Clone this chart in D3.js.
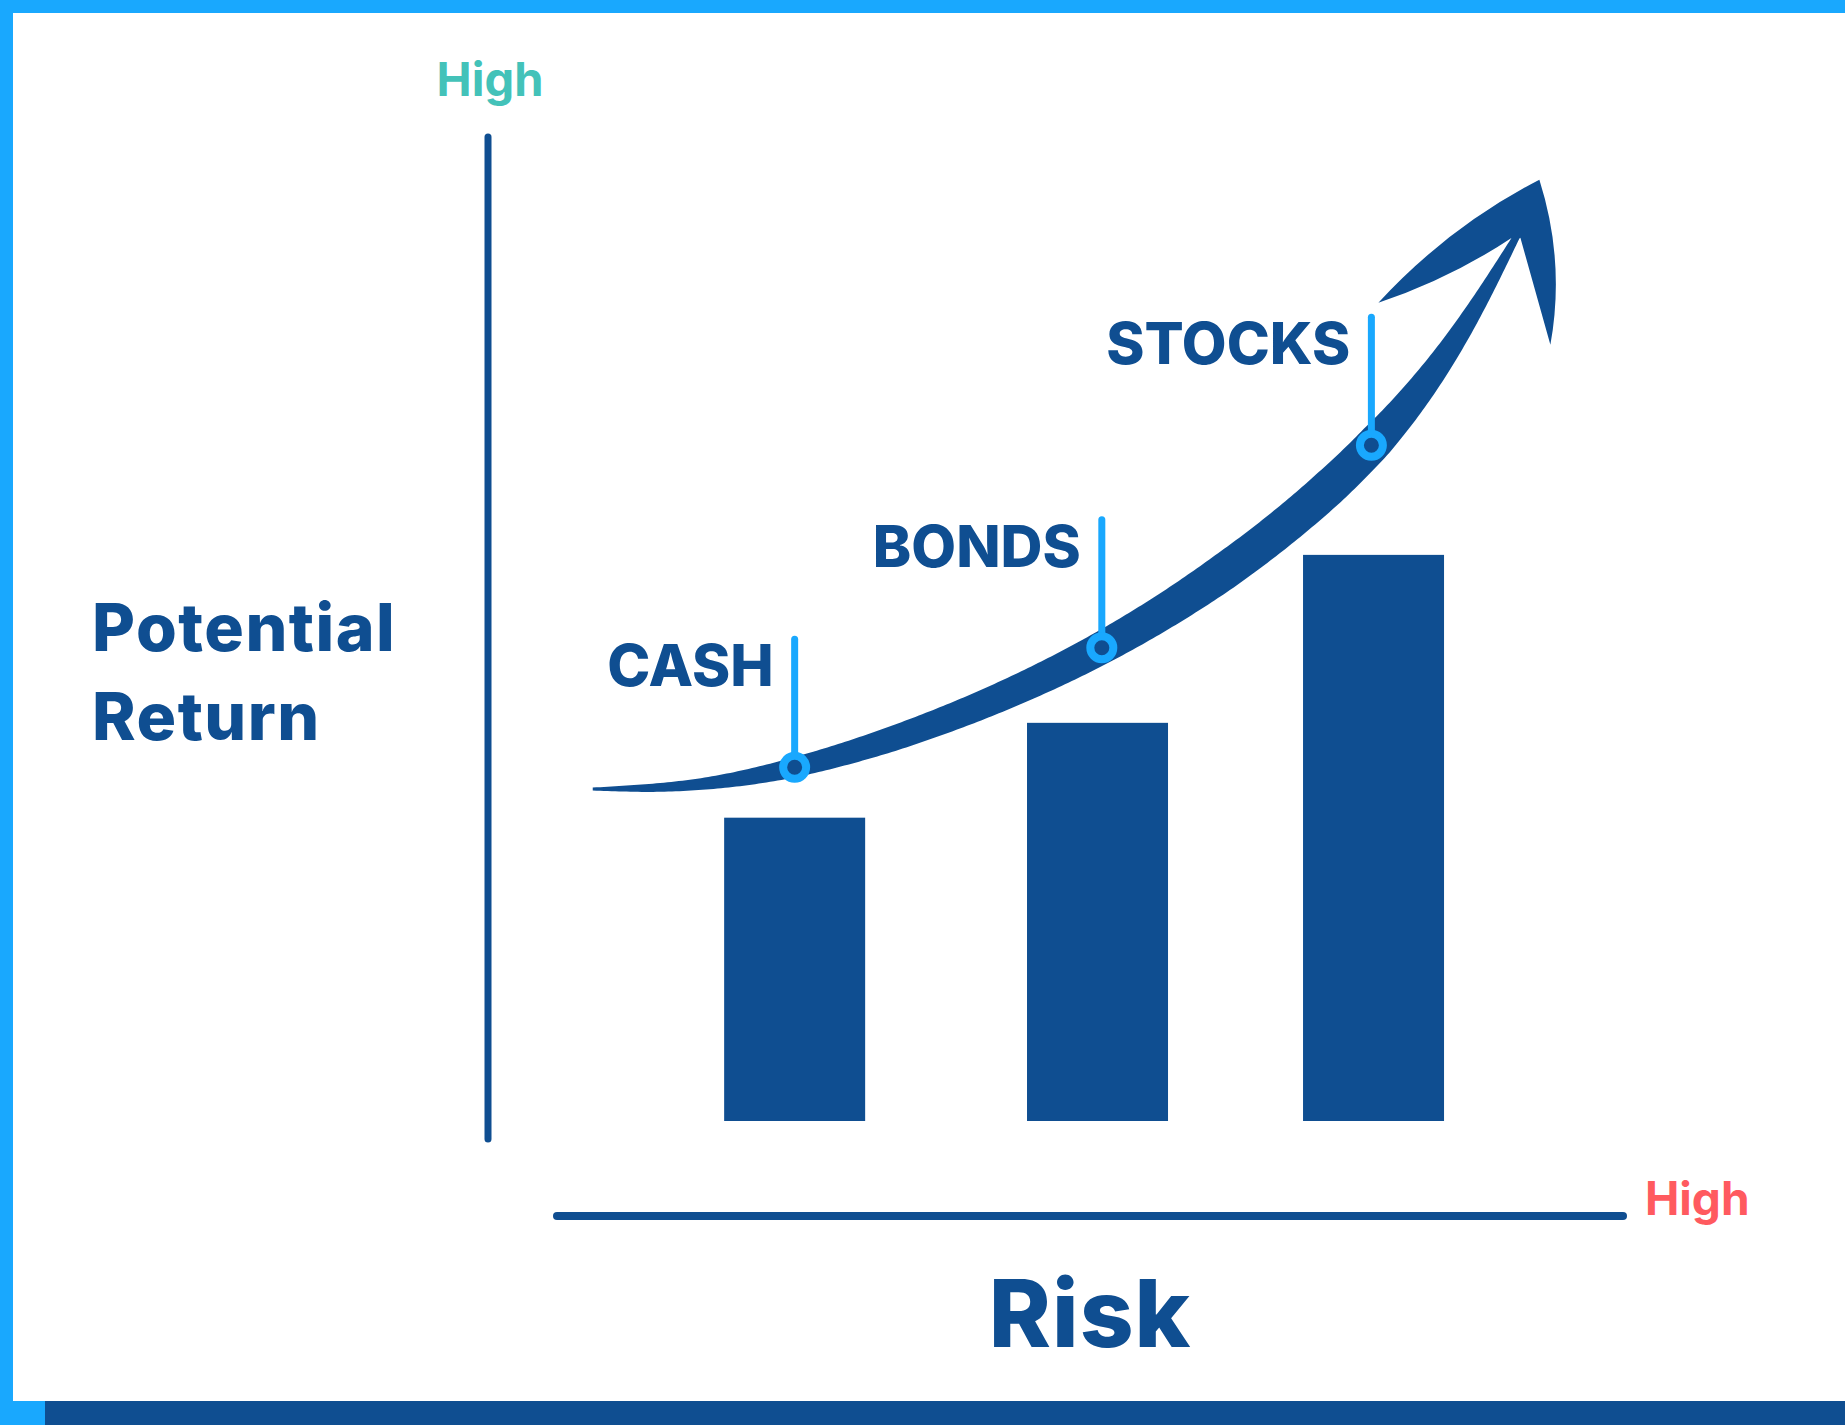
<!DOCTYPE html>
<html>
<head>
<meta charset="utf-8">
<script src="https://cdn.jsdelivr.net/npm/d3@7"></script>
<style>
  body { margin: 0; background: #ffffff; }
  svg { display: block; }
  text { font-family: Inter, "Noto Sans", sans-serif; }
</style>
</head>
<body>
<svg id="RISK_SVG_CONTAINER" width="1845" height="1425"></svg>
<script>
// bar categories + values (risk on x, return on y, 0-100 scale)
const categories = ["CASH", "BONDS", "STOCKS"];
const barRisk = [22.5, 50.7, 76.4];
const barReturn = [30.7, 40.3, 57.3];

// where each label's pin sits on the trend arrow
const markerRisk = [22.5, 51.1, 76.2];
const markerReturn = [35.8, 47.9, 68.4];

// trend arrow centre line
const trendRisk = [3.7, 22.5, 51.1, 76.3, 89.7];
const trendReturn = [33.6, 35.8, 47.9, 68.4, 89.5];

const axisTitleY = ["Potential", "Return"];
const axisTitleX = "Risk";
const axisEndLabel = "High";

const DARK = "#0f4e91",
  LIGHT = "#19a8fe",
  TEAL = "#43c2b9",
  RED = "#ff5a5f";

const width = 1845,
  height = 1425;

let svg = d3.select("#RISK_SVG_CONTAINER");

let xScale = d3.scaleLinear().domain([0, 100]).range([553, 1627]);
let yScale = d3.scaleLinear().domain([0, 100]).range([1121, 133]);

const AXIS_X = 488, // vertical axis position
  AXIS_Y = 1216; // horizontal axis position

// frame
svg.append("rect").attr("x", 0).attr("y", 0).attr("width", width).attr("height", 13).attr("fill", LIGHT);
svg.append("rect").attr("x", 0).attr("y", 0).attr("width", 13).attr("height", height).attr("fill", LIGHT);
svg.append("rect").attr("x", 0).attr("y", 1401).attr("width", width).attr("height", 24).attr("fill", DARK);
svg.append("rect").attr("x", 0).attr("y", 1401).attr("width", 45).attr("height", 24).attr("fill", LIGHT);

// axes
svg.append("line")
  .attr("x1", AXIS_X).attr("x2", AXIS_X)
  .attr("y1", yScale(100) + 4).attr("y2", yScale.range()[0] + 18)
  .attr("stroke", DARK).attr("stroke-width", 7).attr("stroke-linecap", "round");

svg.append("line")
  .attr("x1", xScale.range()[0] + 4).attr("x2", xScale.range()[1] - 4)
  .attr("y1", AXIS_Y).attr("y2", AXIS_Y)
  .attr("stroke", DARK).attr("stroke-width", 8).attr("stroke-linecap", "round");

svg.append("text")
  .attr("x", AXIS_X + 2).attr("y", 96)
  .attr("text-anchor", "middle")
  .attr("font-size", 47).attr("font-weight", 700)
  .attr("fill", TEAL)
  .text(axisEndLabel);

svg.append("text")
  .attr("x", xScale.range()[1] + 18).attr("y", AXIS_Y - 1)
  .attr("font-size", 46).attr("font-weight", 700)
  .attr("fill", RED)
  .text(axisEndLabel);

svg.append("text")
  .attr("x", (xScale.range()[0] + xScale.range()[1]) / 2).attr("y", 1347)
  .attr("text-anchor", "middle")
  .attr("font-size", 94).attr("font-weight", 800)
  .attr("letter-spacing", 1)
  .attr("fill", DARK)
  .text(axisTitleX);

svg.append("text")
  .attr("font-size", 66).attr("font-weight", 800)
  .attr("letter-spacing", 1.5)
  .attr("fill", DARK)
  .selectAll("tspan")
  .data(axisTitleY)
  .enter()
  .append("tspan")
  .attr("x", 92)
  .attr("y", (d, i) => 651 + i * 89)
  .text((d) => d);

// bars
let bars = categories.map((c, i) => ({ name: c, risk: barRisk[i], ret: barReturn[i] }));
const BAR_W = 141;

svg.append("g")
  .selectAll("rect")
  .data(bars)
  .enter()
  .append("rect")
  .attr("x", (d) => xScale(d.risk) - BAR_W / 2)
  .attr("y", (d) => yScale(d.ret))
  .attr("width", BAR_W)
  .attr("height", (d) => yScale(0) - yScale(d.ret))
  .attr("fill", DARK);

// trend arrow: tapered body built by offsetting the centre line
let trend = trendRisk.map((r, i) => [xScale(r), yScale(trendReturn[i])]);
let centre = d3.line().curve(d3.curveNatural);
let tmp = svg.append("path").attr("d", centre(trend)).attr("fill", "none");
let node = tmp.node();
let total = node.getTotalLength();

// thickness along the arrow (fraction of length -> px)
let thick = d3.scaleLinear()
  .domain([0, 0.05, 0.1, 0.18, 0.27, 0.48, 0.6, 0.72, 0.78, 0.84, 0.91, 1])
  .range([3, 8, 12, 20, 25, 33, 37, 37, 35, 28, 19, 7]);

let upper = [],
  lower = [];
const N = 300;
for (let i = 0; i <= N; i++) {
  let s = (i / N) * total;
  let p = node.getPointAtLength(s);
  let a = node.getPointAtLength(Math.max(0, s - 1));
  let b = node.getPointAtLength(Math.min(total, s + 1));
  let dx = b.x - a.x,
    dy = b.y - a.y,
    len = Math.hypot(dx, dy) || 1;
  let nx = dy / len,
    ny = -dx / len;
  let w = thick(i / N) / 2;
  upper.push([p.x + nx * w, p.y + ny * w]);
  lower.push([p.x - nx * w, p.y - ny * w]);
}
tmp.remove();

// arrow head, offsets from the end of the centre line
let end = trend[trend.length - 1];
let at = (dx, dy) => [end[0] + dx, end[1] + dy];

let outline = d3.path();
outline.moveTo(upper[0][0], upper[0][1]);
upper.forEach((p) => outline.lineTo(p[0], p[1]));
outline.lineTo(...at(-3, 0));
outline.quadraticCurveTo(...at(-66, 42), ...at(-138, 66)); // left wing, inner edge
outline.quadraticCurveTo(...at(-68, -10), ...at(23, -57)); // left wing, outer edge up to the tip
outline.quadraticCurveTo(...at(49, 25), ...at(34, 108)); // right wing, outer edge
outline.lineTo(...at(4, 1)); // right wing, inner edge
lower.slice().reverse().forEach((p) => outline.lineTo(p[0], p[1]));
outline.closePath();

svg.append("path").attr("d", outline.toString()).attr("fill", DARK);

// pins + labels
let pins = categories.map((c, i) => ({ name: c, x: xScale(markerRisk[i]), y: yScale(markerReturn[i]) }));
const STEM = 128;

let pin = svg.append("g").selectAll("g").data(pins).enter().append("g");

pin.append("line")
  .attr("x1", (d) => d.x).attr("x2", (d) => d.x)
  .attr("y1", (d) => d.y).attr("y2", (d) => d.y - STEM)
  .attr("stroke", LIGHT).attr("stroke-width", 7).attr("stroke-linecap", "round");

pin.append("circle")
  .attr("cx", (d) => d.x).attr("cy", (d) => d.y)
  .attr("r", 11.5)
  .attr("fill", DARK)
  .attr("stroke", LIGHT).attr("stroke-width", 8);

pin.append("text")
  .attr("x", (d) => d.x - 21)
  .attr("y", (d) => d.y - STEM + 47)
  .attr("text-anchor", "end")
  .attr("font-size", 58).attr("font-weight", 800)
  .attr("fill", DARK)
  .text((d) => d.name);
</script>
</body>
</html>
